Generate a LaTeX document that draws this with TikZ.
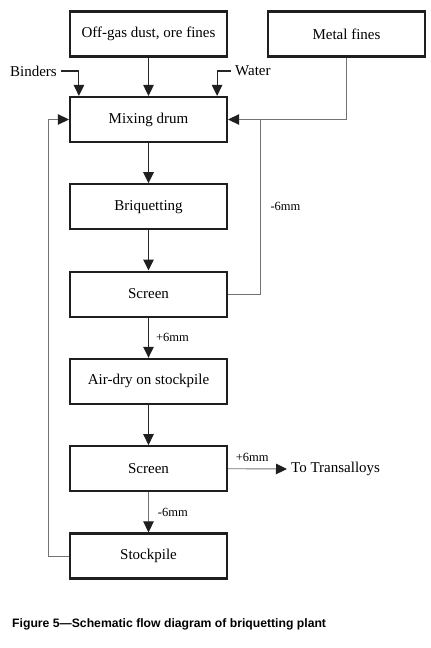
\documentclass[tikz,border=0pt]{standalone}
\usepackage{fontspec}
\setmainfont{Liberation Serif}
\newfontfamily\capfont{Liberation Sans}
\usetikzlibrary{arrows.meta}

\begin{document}
\begin{tikzpicture}[
x=1pt, y=-1pt,
node distance=87.3pt,
box/.style={draw=black!88, line width=2.2pt, rectangle, minimum width=157pt, minimum height=45pt, font=\fontsize{15}{17}\selectfont},
txt/.style={font=\fontsize{15}{17}\selectfont, inner sep=4pt},
size/.style={font=\fontsize{12.5}{14}\selectfont, inner sep=2pt},
arrow/.style={-{Triangle[length=11pt,width=10.5pt,color=black!88]}, line width=1.1pt, draw=black!85},
feed/.style={-{Triangle[length=11pt,width=10.5pt,color=black!88]}, line width=0.9pt, draw=black!55}
]

\useasboundingbox (0,0) rectangle (431,648);

\node[box] (offgas) at (148.5,34) {Off-gas dust, ore fines};

\node[box] (metal) at (346.5,34) {Metal fines};

\node[box] (mix) at (148.5,119.5) {Mixing drum};

\node[box, below of=mix] (briq) {Briquetting};

\node[box, below of=briq] (scr1) {Screen};

\node[box, below of=scr1] (airdry) {Air-dry on stockpile};

\node[box, below of=airdry] (scr2) {Screen};

\node[box, below of=scr2] (stock) {Stockpile};

\node[txt, anchor=east] (binders) at (61,71) {Binders};
\node[txt, anchor=west] (water) at (231,71) {Water};
\node[txt, anchor=west] (trans) at (287,469) {To Transalloys};

\coordinate (joint) at ([xshift=32pt]mix.east);

\draw[arrow] (binders.east) -| ([xshift=10pt]mix.north west);
\draw[arrow] (offgas) -- (mix);
\draw[arrow] (water.west) -| ([xshift=-11pt]mix.north east);
\draw[feed] (metal.south) |- (mix.east);
\draw[feed, -] (scr1.east) -| node[size, pos=0.75, right=8pt] (lblminus1) {-6mm} (joint);

\draw[arrow] (mix) -- (briq);
\draw[arrow] (briq) -- (scr1);
\draw[arrow] (scr1) -- node[size, right=5pt] (lblplus1) {+6mm} (airdry);
\draw[arrow] (airdry) -- (scr2);
\draw[feed] (scr2) -- node[size, right=7pt] (lblminus2) {-6mm} (stock);
\draw[feed] (scr2.east) -- node[size, pos=0.41, above=5pt] (lblplus2) {+6mm} (trans.west);
\draw[feed] (stock.west) -- ++(-20,0) |- (mix.west);

\node[anchor=base west, inner sep=0pt, font=\capfont\fontsize{12.2}{14}\selectfont\bfseries] (caption) at (12,627.5) {Figure 5—Schematic flow diagram of briquetting plant};

\end{tikzpicture}
\end{document}
